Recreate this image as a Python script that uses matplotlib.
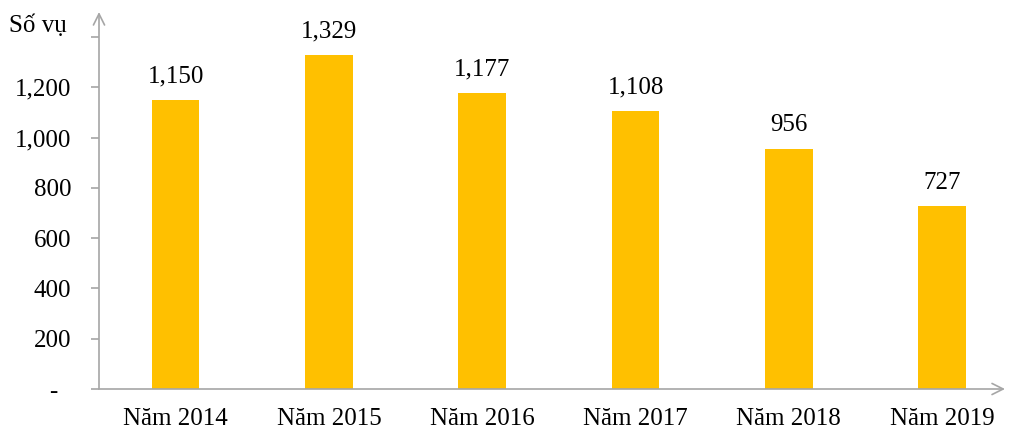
import matplotlib.pyplot as plt

plt.rcParams['font.family'] = ['Liberation Serif', 'DejaVu Serif']

categories = ['Năm 2014', 'Năm 2015', 'Năm 2016', 'Năm 2017', 'Năm 2018', 'Năm 2019']
cases = [1150, 1329, 1177, 1108, 956, 727]
yticks = [0, 200, 400, 600, 800, 1000, 1200, 1400]
ytick_labels = ['-  ', '200', '400', '600', '800', '1,000', '1,200', '']

axis_col = '#A6A6A6'
fs = 18

fig = plt.figure(figsize=(10.11, 4.32), dpi=100)
ax = fig.add_axes([99 / 1011, 43 / 432, 906 / 1011, 377 / 432])

x = range(len(categories))
ax.bar(x, cases, width=0.31, color='#FFC000')
for i, v in zip(x, cases):
    ax.annotate(f'{v:,}', (i, v), xytext=(0, 9), textcoords='offset points',
                ha='center', va='bottom', fontsize=fs)

ax.set_xlim(-0.5, 5.41)
ax.set_ylim(0, 1500)
ax.set_yticks(yticks)
ax.set_yticklabels(ytick_labels, fontsize=fs)
ax.set_xticks(list(x))
ax.set_xticklabels(categories, fontsize=fs)
ax.tick_params(axis='x', length=0, pad=14)
ax.tick_params(axis='y', length=6, color=axis_col, width=1.2, pad=14)

for s in ['top', 'right', 'left', 'bottom']:
    ax.spines[s].set_visible(False)

# axis lines with open arrowheads
ax.annotate('', xy=(0, 1), xytext=(0, 0), xycoords='axes fraction',
            arrowprops=dict(arrowstyle='->', color=axis_col, lw=1.2,
                            mutation_scale=20, shrinkA=0, shrinkB=0))
ax.annotate('', xy=(1, 0), xytext=(0, 0), xycoords='axes fraction',
            arrowprops=dict(arrowstyle='->', color=axis_col, lw=1.2,
                            mutation_scale=20, shrinkA=0, shrinkB=0))

fig.text(9 / 1011, 1 - 26 / 432, 'Số vụ', fontsize=fs, va='center', ha='left')

fig.savefig('out.png', dpi=100)
